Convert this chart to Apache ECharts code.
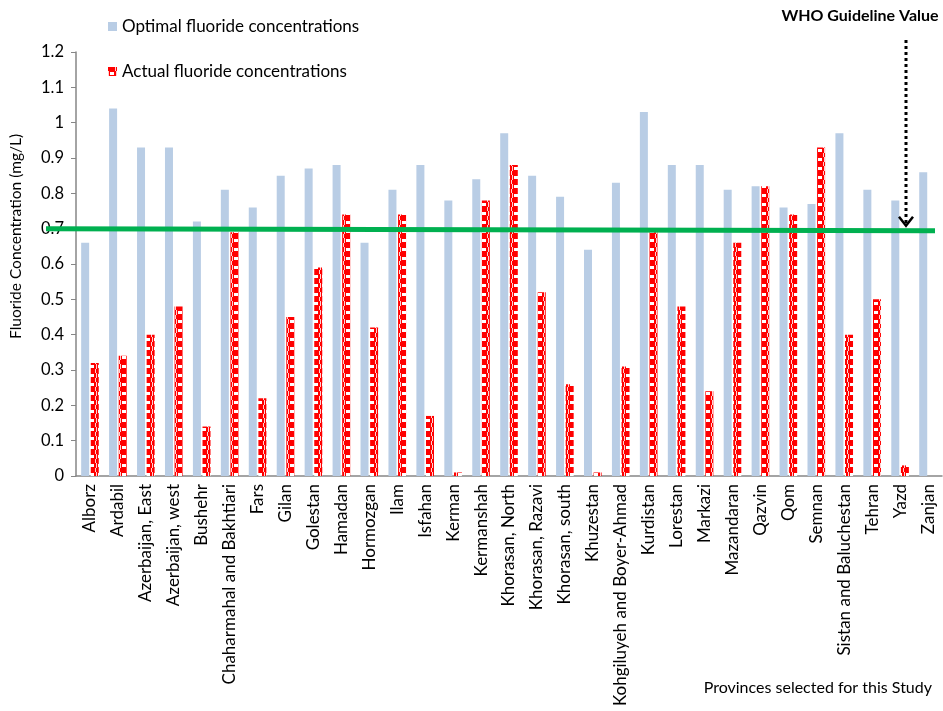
<!DOCTYPE html>
<html><head><meta charset="utf-8">
<script src="https://cdn.jsdelivr.net/npm/echarts@6/dist/echarts.min.js"></script>
<style>html,body{margin:0;padding:0;background:#fff}#c{width:943px;height:711px}</style>
</head><body><div id="c"></div>
<script>
const provinces = ["Alborz","Ardabil","Azerbaijan, East","Azerbaijan, west","Bushehr","Chaharmahal and Bakhtiari","Fars","Gilan","Golestan","Hamadan","Hormozgan","Ilam","Isfahan","Kerman","Kermanshah","Khorasan, North","Khorasan, Razavi","Khorasan, south","Khuzestan","Kohgiluyeh and Boyer-Ahmad","Kurdistan","Lorestan","Markazi","Mazandaran","Qazvin","Qom","Semnan","Sistan and Baluchestan","Tehran","Yazd","Zanjan"];
const optimal = [0.66,1.04,0.93,0.93,0.72,0.81,0.76,0.85,0.87,0.88,0.66,0.81,0.88,0.78,0.84,0.97,0.85,0.79,0.64,0.83,1.03,0.88,0.88,0.81,0.82,0.76,0.77,0.97,0.81,0.78,0.86];
const actual = [0.32,0.34,0.40,0.48,0.14,0.69,0.22,0.45,0.59,0.74,0.42,0.74,0.17,0.01,0.78,0.88,0.52,0.26,0.01,0.31,0.69,0.48,0.24,0.66,0.82,0.74,0.93,0.40,0.50,0.03,null];
const whoValue = 0.7;
const yTicks = [0,0.1,0.2,0.3,0.4,0.5,0.6,0.7,0.8,0.9,1,1.1,1.2];

const FONT = 'Lato';
// red checker pattern
const pc = document.createElement('canvas');
pc.width = 8; pc.height = 9;
const g = pc.getContext('2d');
g.fillStyle = '#ff0000'; g.fillRect(0,0,8,9);
g.fillStyle = '#ffd0d0'; g.fillRect(0,4,1,5); g.fillRect(7,0,1,4);
g.fillStyle = '#ffffff'; g.fillRect(2,5,4,3);
const redPattern = {image: pc, repeat: 'repeat'};

const chart = echarts.init(document.getElementById('c'), null, {renderer:'canvas'});
chart.setOption({
  animation: false,
  textStyle: {fontFamily: FONT},
  legend: {
    orient: 'vertical', left: 103, top: 13, itemGap: 28,
    itemWidth: 9, itemHeight: 9,
    textStyle: {fontFamily: FONT, fontSize: 17, color: '#000'},
    data: [{name:'Optimal fluoride concentrations', icon:'rect'},{name:'Actual fluoride concentrations', icon:'rect'}]
  },
  grid: {left: 76, right: 1, top: 52, bottom: 235, containLabel: false},
  xAxis: {
    type: 'category', data: provinces,
    axisLine: {lineStyle: {color: '#868686', width: 1.5}},
    axisTick: {alignWithLabel: false, length: 5, lineStyle: {color: '#868686'}},
    axisLabel: {rotate: 90, interval: 0, fontFamily: FONT, fontSize: 17, color: '#000', margin: 8}
  },
  yAxis: {
    type: 'value', min: 0, max: 1.2, interval: 0.1,
    splitLine: {show: false},
    axisLine: {show: true, lineStyle: {color: '#868686', width: 1.5}},
    axisTick: {show: true, inside: false, length: 5, lineStyle: {color: '#868686'}},
    axisLabel: {fontFamily: FONT, fontSize: 16.5, color: '#000', margin: 12,
      formatter: v => { const t = yTicks.find(x => Math.abs(x - v) < 1e-6); return t === undefined ? '' : String(t); }}
  },
  series: [
    {name: 'Optimal fluoride concentrations', type: 'bar', data: optimal, barWidth: 8, barGap: '20%',
     itemStyle: {color: '#b9cde5'}},
    {name: 'Actual fluoride concentrations', type: 'bar', data: actual, barWidth: 8,
     itemStyle: {color: redPattern}}
  ]
});

const yW = chart.convertToPixel({yAxisIndex: 0}, whoValue);
const arrowX = 906;
chart.setOption({
  graphic: [
    {type: 'text', rotation: Math.PI/2, style: {text: 'Fluoride Concentration (mg/L)', font: '15.5px ' + FONT, fill: '#000'},
     x: 8, y: 339},
    {type: 'line', shape: {x1: 46, y1: yW, x2: 935, y2: yW + 2}, style: {stroke: '#00b050', lineWidth: 5}, z: 10},
    {type: 'line', shape: {x1: arrowX, y1: 40, x2: arrowX, y2: yW - 4}, style: {stroke: '#000', lineWidth: 3, lineDash: [3, 3]}, z: 11},
    {type: 'polyline', shape: {points: [[arrowX - 7, yW - 12], [arrowX, yW - 3], [arrowX + 7, yW - 12]]}, style: {stroke: '#000', lineWidth: 2.5, fill: null}, z: 11},
    {type: 'text', x: 860, y: 16, style: {text: 'WHO Guideline Value', font: 'bold 16px ' + FONT, fill: '#000', align: 'center', verticalAlign: 'middle'}},
    {type: 'text', x: 932, y: 688, style: {text: 'Provinces selected for this Study', font: '16px ' + FONT, fill: '#000', align: 'right', verticalAlign: 'middle'}}
  ]
});
</script></body></html>
